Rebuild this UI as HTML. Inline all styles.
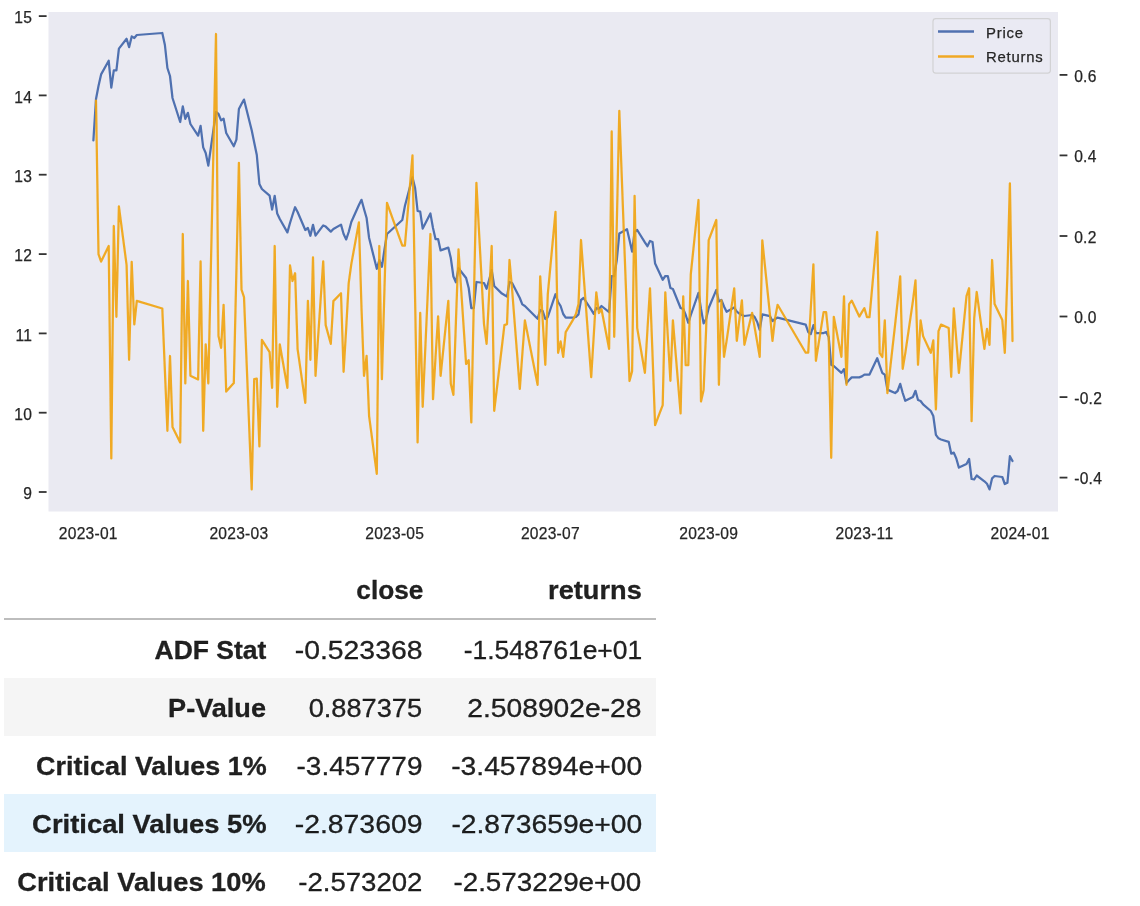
<!DOCTYPE html>
<html><head><meta charset="utf-8"><title>ADF</title>
<style>
html,body{margin:0;padding:0;background:#fff;}
body{width:1140px;height:906px;overflow:hidden;position:relative;font-family:"Liberation Sans",sans-serif;}
svg{position:absolute;left:0;top:0;}
svg text{font-family:"Liberation Sans",sans-serif;font-size:15.6px;fill:#262626;letter-spacing:0.25px;stroke:#262626;stroke-width:0.25px;}
svg text.lg{font-size:14.9px;letter-spacing:0.75px;}
svg{opacity:0.999;}
.bg{position:absolute;left:4px;width:652px;height:58px;}
.c{position:absolute;white-space:nowrap;font-size:25.2px;line-height:30px;height:30px;color:rgba(0,0,0,0.87);transform-origin:right center;font-weight:normal;-webkit-text-stroke:0.3px rgba(0,0,0,0.87);}
.c.b{font-weight:bold;}
</style></head><body>
<svg width="1140" height="550" viewBox="0 0 1140 550">
<rect x="48.5" y="12" width="1009.5" height="499.5" fill="#eaeaf2"/>
<clipPath id="c"><rect x="48.5" y="12" width="1009.5" height="499.5"/></clipPath>
<filter id="bl" x="0" y="0" width="1140" height="550" filterUnits="userSpaceOnUse"><feGaussianBlur stdDeviation="0.45"/></filter>
<g clip-path="url(#c)"><g filter="url(#bl)" fill="none" stroke-linejoin="round" stroke-linecap="round">
<path d="M93.4,140.4 L96.0,99.0 L98.5,86.0 L101.1,74.4 L108.7,60.8 L111.3,87.6 L113.8,70.4 L116.4,70.4 L118.9,48.6 L126.6,38.8 L129.1,47.2 L131.7,36.4 L134.3,38.0 L136.8,35.0 L162.3,33.0 L164.9,45.0 L167.4,68.0 L170.0,76.0 L172.5,98.0 L180.2,122.0 L182.8,106.4 L185.3,118.8 L187.9,112.8 L190.4,124.0 L198.1,135.6 L200.6,125.8 L203.2,147.4 L205.7,153.0 L208.3,165.6 L216.0,112.0 L218.5,114.0 L221.1,120.4 L223.6,118.6 L226.2,133.0 L233.8,146.2 L236.4,139.6 L238.9,109.0 L241.5,104.0 L244.0,99.6 L251.7,130.2 L254.2,142.4 L256.8,155.0 L259.4,184.0 L261.9,189.0 L269.6,195.6 L272.1,209.6 L274.7,195.8 L277.2,213.6 L279.8,219.0 L287.4,232.4 L290.0,223.0 L292.5,215.0 L295.1,207.2 L297.6,212.0 L305.3,230.0 L307.9,228.0 L310.4,235.8 L313.0,224.8 L315.5,235.6 L323.2,225.4 L325.7,226.6 L330.8,231.6 L333.4,229.0 L341.0,224.6 L343.6,234.0 L346.2,239.4 L348.7,232.0 L351.3,222.0 L358.9,205.0 L361.5,199.8 L364.0,209.0 L366.6,218.0 L369.1,238.0 L376.8,268.8 L379.3,260.2 L381.9,266.8 L384.4,250.0 L387.0,234.0 L402.3,220.0 L404.9,206.0 L412.5,177.4 L415.1,188.0 L417.6,211.0 L420.2,211.6 L422.7,228.6 L430.4,213.4 L433.0,228.0 L435.5,239.0 L438.1,239.0 L440.6,250.4 L448.3,247.6 L450.8,258.0 L453.4,276.5 L455.9,282.3 L458.5,268.2 L466.1,278.0 L468.7,288.0 L471.3,308.0 L473.8,308.0 L476.4,282.0 L484.0,283.0 L486.6,288.8 L489.1,280.0 L491.7,270.2 L494.2,286.0 L501.9,293.6 L504.4,295.0 L507.0,296.6 L509.5,282.0 L512.1,283.0 L519.8,298.0 L522.3,304.4 L524.9,306.0 L537.6,318.8 L540.2,310.0 L542.7,311.0 L545.3,319.0 L547.8,317.0 L555.5,294.2 L558.1,302.0 L560.6,306.0 L563.2,314.0 L565.7,317.6 L573.4,317.6 L575.9,317.0 L578.5,314.4 L581.0,300.0 L583.6,298.0 L591.2,309.6 L593.8,313.8 L596.3,308.0 L598.9,309.0 L601.5,306.0 L609.1,312.2 L611.7,276.0 L614.2,276.0 L616.8,260.0 L619.3,233.6 L627.0,229.2 L629.5,240.0 L632.1,251.6 L634.6,232.0 L637.2,230.0 L644.9,242.4 L647.4,246.2 L650.0,241.0 L652.5,242.0 L655.1,263.6 L662.7,279.8 L665.3,276.0 L667.8,276.0 L670.4,288.0 L672.9,289.0 L680.6,308.0 L683.2,309.0 L685.7,315.0 L688.3,322.8 L690.8,315.0 L698.5,292.8 L701.0,309.0 L703.6,323.4 L706.1,319.0 L708.7,308.0 L716.3,289.9 L718.9,301.5 L721.4,300.0 L724.0,306.5 L726.6,311.8 L734.2,307.5 L736.8,311.5 L739.3,313.6 L741.9,315.0 L744.4,316.0 L752.1,315.0 L754.6,317.0 L757.2,322.0 L759.7,329.8 L762.3,314.4 L770.0,316.2 L772.5,321.0 L775.1,319.0 L777.6,317.6 L805.7,324.6 L808.2,332.0 L810.8,334.0 L813.4,325.2 L815.9,333.0 L823.6,333.0 L826.1,332.0 L828.7,337.0 L831.2,365.0 L833.8,366.0 L841.4,372.8 L844.0,369.2 L846.5,383.0 L849.1,380.0 L851.7,377.4 L859.3,377.4 L861.9,376.4 L864.4,374.6 L867.0,374.6 L869.5,374.6 L877.2,358.2 L879.7,365.6 L882.3,373.0 L884.8,374.6 L887.4,389.6 L895.1,393.0 L897.6,391.0 L900.2,383.8 L902.7,393.0 L905.3,400.8 L912.9,397.0 L915.5,390.8 L918.0,400.0 L920.6,401.0 L923.1,404.4 L930.8,411.0 L933.3,416.0 L935.9,434.8 L938.5,438.3 L941.0,439.5 L948.7,441.8 L951.2,453.6 L953.8,452.6 L956.3,458.5 L958.9,467.6 L966.5,464.0 L969.1,459.0 L971.6,479.0 L974.2,479.3 L976.7,475.5 L984.4,481.3 L987.0,483.8 L989.5,489.4 L992.1,478.3 L994.6,476.0 L1002.3,477.0 L1004.8,484.0 L1007.4,482.8 L1009.9,456.2 L1012.5,461.0" stroke="#5071b0" stroke-width="2.25"/>
<path d="M96.0,100.6 L98.5,254.1 L101.1,261.6 L108.7,246.0 L111.3,458.4 L113.8,226.0 L116.4,316.8 L118.9,206.4 L126.6,265.1 L129.1,359.8 L131.7,261.8 L134.3,324.4 L136.8,300.9 L162.3,308.5 L164.9,370.9 L167.4,430.8 L170.0,356.0 L172.5,427.1 L180.2,442.4 L182.8,234.0 L185.3,383.4 L187.9,281.0 L190.4,375.7 L198.1,379.4 L200.6,261.4 L203.2,430.8 L205.7,344.4 L208.3,383.4 L216.0,34.0 L218.5,336.1 L221.1,347.8 L223.6,304.8 L226.2,391.6 L233.8,383.1 L236.4,270.1 L238.9,162.8 L241.5,289.7 L244.0,297.1 L251.7,489.4 L254.2,379.1 L256.8,378.7 L259.4,446.4 L261.9,339.9 L269.6,352.1 L272.1,387.8 L274.7,246.0 L277.2,406.8 L279.8,344.4 L287.4,387.8 L290.0,265.4 L292.5,281.0 L295.1,273.2 L297.6,349.1 L305.3,402.8 L307.9,300.8 L310.4,359.8 L313.0,257.4 L315.5,375.8 L323.2,261.4 L325.7,325.1 L330.8,343.8 L333.4,301.1 L341.0,293.2 L343.6,371.8 L346.2,328.1 L348.7,283.1 L351.3,264.1 L358.9,222.4 L361.5,308.1 L364.0,375.8 L366.6,355.8 L369.1,416.1 L376.8,473.8 L379.3,246.0 L381.9,379.2 L384.4,291.1 L387.0,202.8 L402.3,245.7 L404.9,245.7 L412.5,155.4 L415.1,299.1 L417.6,442.4 L420.2,312.8 L422.7,406.8 L430.4,234.0 L433.0,399.2 L435.5,357.7 L438.1,316.4 L440.6,375.8 L448.3,300.8 L450.8,383.7 L453.4,394.8 L455.9,322.1 L458.5,249.4 L466.1,364.0 L468.7,360.2 L471.3,422.4 L473.8,302.6 L476.4,182.8 L484.0,324.1 L486.6,343.8 L489.1,295.1 L491.7,246.0 L494.2,410.8 L501.9,346.5 L504.4,325.1 L507.0,324.1 L509.5,260.0 L512.1,289.5 L519.8,388.8 L522.3,354.5 L524.9,320.4 L537.6,384.8 L540.2,276.4 L542.7,320.5 L545.3,364.8 L547.8,294.1 L555.5,211.8 L558.1,352.8 L560.6,341.4 L563.2,356.8 L565.7,332.1 L573.4,319.1 L575.9,314.1 L578.5,304.1 L581.0,240.0 L583.6,275.1 L591.2,377.2 L593.8,334.7 L596.3,292.4 L598.9,313.0 L601.5,309.2 L609.1,348.8 L611.7,131.4 L614.2,336.8 L616.8,223.8 L619.3,110.8 L627.0,316.9 L629.5,381.0 L632.1,371.1 L634.6,195.8 L637.2,328.1 L644.9,372.8 L647.4,330.5 L650.0,288.4 L652.5,354.1 L655.1,425.2 L662.7,405.1 L665.3,292.4 L667.8,336.5 L670.4,380.8 L672.9,320.4 L680.6,413.4 L683.2,296.4 L685.7,365.1 L688.3,365.1 L690.8,274.1 L698.5,200.0 L701.0,401.4 L703.6,390.1 L706.1,330.1 L708.7,240.1 L716.3,220.0 L718.9,384.8 L721.4,300.4 L724.0,356.8 L726.6,340.9 L734.2,288.4 L736.8,340.8 L739.3,320.5 L741.9,300.4 L744.4,344.8 L752.1,312.8 L754.6,327.1 L757.2,342.1 L759.7,356.8 L762.3,240.4 L770.0,314.9 L772.5,340.8 L775.1,318.1 L777.6,304.8 L805.7,352.7 L808.2,352.7 L810.8,308.1 L813.4,264.4 L815.9,360.8 L823.6,312.1 L826.1,312.1 L828.7,337.1 L831.2,457.8 L833.8,316.8 L841.4,356.8 L844.0,296.4 L846.5,384.8 L849.1,304.1 L851.7,300.6 L859.3,316.6 L861.9,312.1 L864.4,308.2 L867.0,317.1 L869.5,317.1 L877.2,232.0 L879.7,353.1 L882.3,357.0 L884.8,320.4 L887.4,393.2 L895.1,324.7 L897.6,301.7 L900.2,276.4 L902.7,368.8 L905.3,353.1 L912.9,301.1 L915.5,280.4 L918.0,364.8 L920.6,320.4 L923.1,336.1 L930.8,352.8 L933.3,340.4 L935.9,409.4 L938.5,331.1 L941.0,324.6 L948.7,328.1 L951.2,376.8 L953.8,308.4 L956.3,340.1 L958.9,372.8 L966.5,296.1 L969.1,288.2 L971.6,421.2 L974.2,318.1 L976.7,292.0 L984.4,348.8 L987.0,328.8 L989.5,344.8 L992.1,260.0 L994.6,304.1 L1002.3,320.1 L1004.8,352.8 L1007.4,274.7 L1009.9,183.4 L1012.5,341.1" stroke="#f1a30d" stroke-opacity="0.9" stroke-width="2.25"/>
</g></g>
<line x1="38.8" x2="46.6" y1="492.0" y2="492.0" stroke="#333333" stroke-width="1.8"/>
<text x="32.2" y="499.2" text-anchor="end">9</text>
<line x1="38.8" x2="46.6" y1="412.7" y2="412.7" stroke="#333333" stroke-width="1.8"/>
<text x="32.2" y="419.9" text-anchor="end">10</text>
<line x1="38.8" x2="46.6" y1="333.4" y2="333.4" stroke="#333333" stroke-width="1.8"/>
<text x="32.2" y="340.6" text-anchor="end">11</text>
<line x1="38.8" x2="46.6" y1="254.1" y2="254.1" stroke="#333333" stroke-width="1.8"/>
<text x="32.2" y="261.3" text-anchor="end">12</text>
<line x1="38.8" x2="46.6" y1="174.7" y2="174.7" stroke="#333333" stroke-width="1.8"/>
<text x="32.2" y="181.9" text-anchor="end">13</text>
<line x1="38.8" x2="46.6" y1="95.4" y2="95.4" stroke="#333333" stroke-width="1.8"/>
<text x="32.2" y="102.6" text-anchor="end">14</text>
<line x1="38.8" x2="46.6" y1="16.1" y2="16.1" stroke="#333333" stroke-width="1.8"/>
<text x="32.2" y="23.3" text-anchor="end">15</text>
<line x1="1059.6" x2="1067.4" y1="74.9" y2="74.9" stroke="#333333" stroke-width="1.8"/>
<text x="1074.2" y="81.5">0.6</text>
<line x1="1059.6" x2="1067.4" y1="155.4" y2="155.4" stroke="#333333" stroke-width="1.8"/>
<text x="1074.2" y="162.0">0.4</text>
<line x1="1059.6" x2="1067.4" y1="236.0" y2="236.0" stroke="#333333" stroke-width="1.8"/>
<text x="1074.2" y="242.6">0.2</text>
<line x1="1059.6" x2="1067.4" y1="316.5" y2="316.5" stroke="#333333" stroke-width="1.8"/>
<text x="1074.2" y="323.1">0.0</text>
<line x1="1059.6" x2="1067.4" y1="397.1" y2="397.1" stroke="#333333" stroke-width="1.8"/>
<text x="1074.2" y="403.7">-0.2</text>
<line x1="1059.6" x2="1067.4" y1="477.6" y2="477.6" stroke="#333333" stroke-width="1.8"/>
<text x="1074.2" y="484.2">-0.4</text>
<text x="88.3" y="538.8" text-anchor="middle">2023-01</text>
<text x="238.9" y="538.8" text-anchor="middle">2023-03</text>
<text x="394.7" y="538.8" text-anchor="middle">2023-05</text>
<text x="550.4" y="538.8" text-anchor="middle">2023-07</text>
<text x="708.7" y="538.8" text-anchor="middle">2023-09</text>
<text x="864.4" y="538.8" text-anchor="middle">2023-11</text>
<text x="1020.1" y="538.8" text-anchor="middle">2024-01</text>
<rect x="933" y="18.7" width="117.4" height="54.4" rx="2.8" ry="2.8" fill="#eaeaf2" fill-opacity="0.8" stroke="#cccccc" stroke-opacity="0.8" stroke-width="1.2"/>
<line x1="938" x2="974" y1="31.5" y2="31.5" stroke="#5071b0" stroke-width="2.3"/>
<line x1="938" x2="974" y1="56.5" y2="56.5" stroke="#f0a824" stroke-width="2.3"/>
<text class="lg" x="986" y="37.8">Price</text>
<text class="lg" x="986" y="61.7">Returns</text>
</svg>
<div class="bg" style="top:678px;background:#f5f5f5"></div>
<div class="bg" style="top:794px;background:#e4f3fd"></div>
<div class="bg" style="top:618.2px;height:2px;background:#bdbdbd"></div>
<span class="c b" style="right:717.04px;top:575.07px;transform:scaleX(1.0422)">close</span>
<span class="c b" style="right:497.89px;top:575.07px;transform:scaleX(1.0793)">returns</span>
<span class="c b" style="right:873.64px;top:634.77px;transform:scaleX(1.0513)">ADF Stat</span>
<span class="c" style="right:717.53px;top:634.77px;transform:scaleX(1.1257)">-0.523368</span>
<span class="c" style="right:497.96px;top:634.77px;transform:scaleX(1.0486)">-1.548761e+01</span>
<span class="c b" style="right:873.76px;top:692.77px;transform:scaleX(1.0758)">P-Value</span>
<span class="c" style="right:717.47px;top:692.77px;transform:scaleX(1.0791)">0.887375</span>
<span class="c" style="right:498.07px;top:692.77px;transform:scaleX(1.1201)">2.508902e-28</span>
<span class="c b" style="right:873.70px;top:750.77px;transform:scaleX(1.0690)">Critical Values 1%</span>
<span class="c" style="right:717.53px;top:750.77px;transform:scaleX(1.1099)">-3.457779</span>
<span class="c" style="right:497.96px;top:750.77px;transform:scaleX(1.1226)">-3.457894e+00</span>
<span class="c b" style="right:873.70px;top:808.77px;transform:scaleX(1.0876)">Critical Values 5%</span>
<span class="c" style="right:717.53px;top:808.77px;transform:scaleX(1.1257)">-2.873609</span>
<span class="c" style="right:497.96px;top:808.77px;transform:scaleX(1.1209)">-2.873659e+00</span>
<span class="c b" style="right:873.96px;top:866.77px;transform:scaleX(1.0814)">Critical Values 10%</span>
<span class="c" style="right:717.73px;top:866.77px;transform:scaleX(1.0949)">-2.573202</span>
<span class="c" style="right:498.46px;top:866.77px;transform:scaleX(1.1032)">-2.573229e+00</span>
</body></html>
